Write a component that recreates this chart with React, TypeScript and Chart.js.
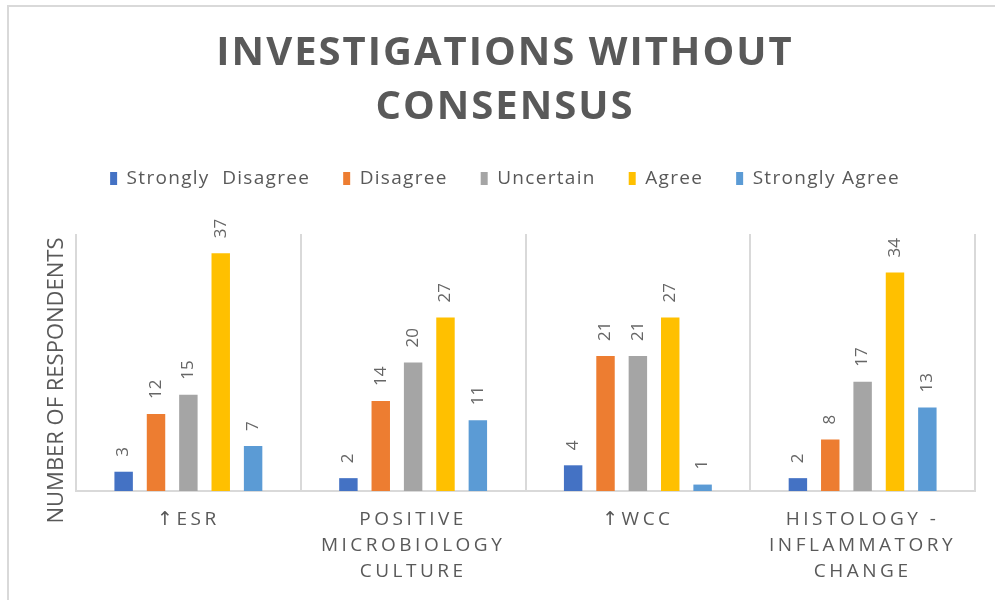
import React, { useEffect, useRef } from 'react';
import { Chart, registerables } from 'chart.js';

Chart.register(...registerables);

// ---------- data ----------
const categories: string[][] = [
  ['↑ESR'],
  ['POSITIVE', 'MICROBIOLOGY', 'CULTURE'],
  ['↑WCC'],
  ['HISTOLOGY -', 'INFLAMMATORY', 'CHANGE'],
];
const seriesNames = ['Strongly  Disagree', 'Disagree', 'Uncertain', 'Agree', 'Strongly Agree'];
const stronglyDisagree = [3, 2, 4, 2];
const disagree = [12, 14, 21, 8];
const uncertain = [15, 20, 21, 17];
const agree = [37, 27, 27, 34];
const stronglyAgree = [7, 11, 1, 13];
const seriesColors = ['#4472C4', '#ED7D31', '#A5A5A5', '#FFC000', '#5B9BD5'];
const titleLines = ['INVESTIGATIONS WITHOUT', 'CONSENSUS'];
const yAxisTitle = 'NUMBER OF RESPONDENTS';
const yMin = 0;
const yMax = 40;

const TEXT = '#595959';
const FONT = '"Open Sans", "DejaVu Sans", sans-serif';

function withSpacing(obj: any, method: string, spacing: string) {
  if (!obj || obj['__sp_' + method]) return;
  const orig = obj[method];
  obj[method] = function (...args: any[]) {
    const ctx = this.ctx || (this.chart && this.chart.ctx);
    const prev = ctx.letterSpacing;
    ctx.letterSpacing = spacing;
    try {
      return orig.apply(this, args);
    } finally {
      ctx.letterSpacing = prev;
    }
  };
  obj['__sp_' + method] = true;
}

const spacingPlugin = {
  id: 'spacingPlugin',
  beforeUpdate(chart: any) {
    withSpacing(chart.titleBlock, 'draw', '2px');
    withSpacing(chart.legend, 'fit', '1.3px');
    withSpacing(chart.legend, 'draw', '1.3px');
  },
  beforeLayout(chart: any) {
    withSpacing(chart.scales.x, 'drawLabels', '3.5px');
  },
};

const framePlugin = {
  id: 'framePlugin',
  beforeDraw(chart: any) {
    const ctx = chart.ctx;
    ctx.save();
    ctx.strokeStyle = '#D9D9D9';
    ctx.lineWidth = 2;
    ctx.beginPath();
    ctx.moveTo(8, chart.height);
    ctx.lineTo(8, 6);
    ctx.lineTo(chart.width, 6);
    ctx.stroke();
    ctx.restore();
  },
  afterDraw(chart: any) {
    const ctx = chart.ctx;
    const a = chart.chartArea;
    ctx.save();
    ctx.font = `22px ${FONT}`;
    ctx.fillStyle = TEXT;
    ctx.textAlign = 'center';
    ctx.textBaseline = 'middle';
    ctx.translate(a.left - 19, (a.top + a.bottom) / 2 + 18);
    ctx.rotate(-Math.PI / 2);
    ctx.fillText(yAxisTitle, 0, 0);
    ctx.restore();
  },
};

const barLabelPlugin = {
  id: 'barLabelPlugin',
  afterDatasetsDraw(chart: any) {
    const ctx = chart.ctx;
    ctx.save();
    ctx.font = `17px ${FONT}`;
    ctx.fillStyle = '#666666';
    ctx.textAlign = 'left';
    ctx.textBaseline = 'middle';
    chart.data.datasets.forEach((ds: any, di: number) => {
      const meta = chart.getDatasetMeta(di);
      meta.data.forEach((bar: any, i: number) => {
        ctx.save();
        ctx.translate(bar.x, bar.y - 15);
        ctx.rotate(-Math.PI / 2);
        ctx.fillText(String(ds.data[i]), 0, 0);
        ctx.restore();
      });
    });
    ctx.restore();
  },
};

export default function App() {
  const ref = useRef<HTMLCanvasElement>(null);

  useEffect(() => {
    if (!ref.current) return;
    const values = [stronglyDisagree, disagree, uncertain, agree, stronglyAgree];
    const chart = new Chart(ref.current, {
      type: 'bar',
      data: {
        labels: categories,
        datasets: seriesNames.map((name, i) => ({
          label: name,
          data: values[i],
          backgroundColor: seriesColors[i],
          borderWidth: 0,
          categoryPercentage: 0.72,
          barPercentage: 0.57,
        })),
      },
      options: {
        responsive: false,
        animation: false,
        layout: { padding: { left: 35, right: 20, top: 0, bottom: 0 } },
        plugins: {
          tooltip: { enabled: false },
          title: {
            display: true,
            text: titleLines,
            color: TEXT,
            font: { family: FONT, size: 40, weight: 'bold', lineHeight: 1.35 },
            padding: { top: 27, bottom: 1 },
          },
          legend: {
            display: true,
            position: 'top',
            labels: {
              color: TEXT,
              font: { family: FONT, size: 19 },
              boxWidth: 7,
              boxHeight: 13,
              padding: 33,
            },
          },
        },
        scales: {
          x: {
            position: 'bottom',
            grid: {
              display: true,
              offset: true,
              color: '#D9D9D9',
              lineWidth: 2,
              drawTicks: false,
            },
            border: { display: true, color: '#D9D9D9', width: 2 },
            ticks: {
              color: TEXT,
              font: { family: FONT, size: 19, lineHeight: 26 / 19 },
              padding: 16,
              maxRotation: 0,
              minRotation: 0,
              autoSkip: false,
            },
            afterFit(scale: any) {
              scale.height = 109;
            },
          },
          xTop: {
            type: 'category',
            position: 'top',
            display: true,
            grid: { display: false, drawTicks: false },
            border: { display: false },
            ticks: { display: false },
            afterFit(scale: any) {
              scale.height = 36;
            },
          },
          y: {
            min: yMin,
            max: yMax,
            grid: { display: false, drawTicks: false },
            border: { display: false },
            ticks: { display: false },
            afterFit(scale: any) {
              scale.width = 41;
            },
          },
        },
      },
      plugins: [spacingPlugin, framePlugin, barLabelPlugin],
    } as any);
    return () => chart.destroy();
  }, []);

  return (
    <div style={{ position: 'fixed', left: 0, top: 0, width: 995, height: 600, background: '#fff' }}>
      <canvas ref={ref} width={995} height={600} style={{ display: 'block', width: 995, height: 600 }} />
    </div>
  );
}
